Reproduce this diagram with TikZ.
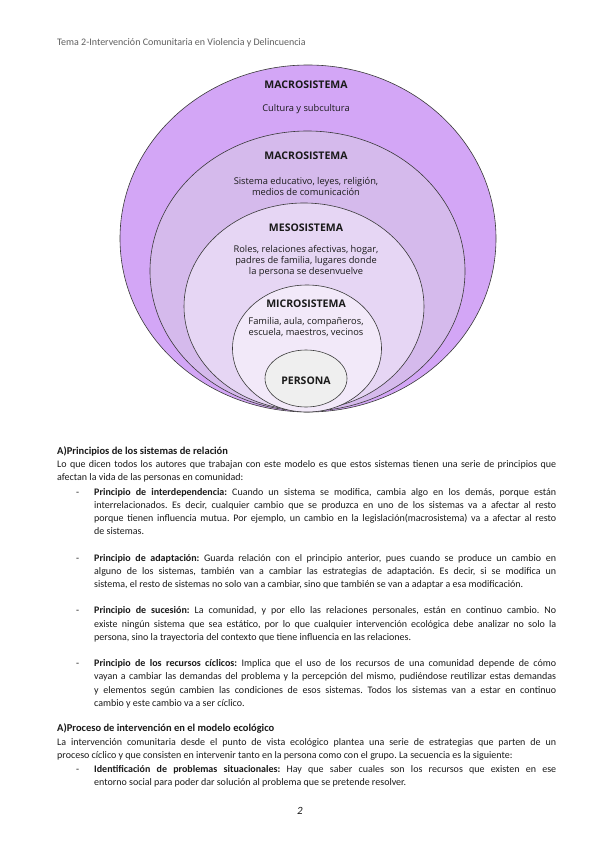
\documentclass[tikz,border=0pt]{standalone}
\usepackage{fontspec}
\setmainfont{Carlito}
\newfontfamily\ringfont{Open Sans}
\frenchspacing
\usetikzlibrary{shapes.geometric}
\definecolor{macroFill}{HTML}{D3A6F6}
\definecolor{exoFill}{HTML}{D5BAEC}
\definecolor{mesoFill}{HTML}{E6D6F4}
\definecolor{microFill}{HTML}{F2E9F9}
\definecolor{personFill}{HTML}{EFEFEF}
\definecolor{ringStroke}{HTML}{3A3A3A}
\definecolor{inkText}{HTML}{1A1A1A}
\definecolor{greyText}{HTML}{5F5F5F}

\begin{document}
\begin{tikzpicture}[
  x=1pt, y=-1pt,
  every node/.style={text=inkText},
  ring/.style={ellipse, draw=ringStroke, line width=0.6pt, inner sep=0pt},
  ringtitle/.style={font=\ringfont\fontsize{10.5}{12}\selectfont\bfseries, inner sep=0pt},
  ringtext/.style={font=\ringfont\fontsize{9.3}{11}\selectfont, align=center, inner sep=0pt},
  runhead/.style={anchor=base west, inner sep=0pt, text=greyText, font=\fontsize{10}{12}\selectfont},
  secthead/.style={anchor=base west, inner sep=0pt, font=\fontsize{10.5}{13}\selectfont\bfseries},
  para/.style={anchor=base west, inner sep=0pt, align=justify, text width=499pt,
               font=\fontsize{10}{13.2}\selectfont},
  item/.style={para, text width=462pt},
  bulletmark/.style={anchor=base west, inner sep=0pt, font=\fontsize{10}{13.2}\selectfont},
]
\useasboundingbox[fill=white] (0,0) rectangle (600,848);

% ---------------- HEADER ----------------
\node[runhead] (HEAD) at (57,46) {Tema 2-Intervención Comunitaria en Violencia y Delincuencia};

% ---------------- RINGS (outer to inner, all touching at the bottom) ----------------
\node[ring, fill=macroFill, minimum width=376pt, minimum height=347pt] (MACRO) at (308,238.5) {};
\node[ring, fill=exoFill, minimum width=315pt, minimum height=280pt] (EXO) at (307.5,271) {};
\node[ring, fill=mesoFill, minimum width=240pt, minimum height=207pt] (MESO) at (304,306.5) {};
\node[ring, fill=microFill, minimum width=149pt, minimum height=127pt] (MICRO) at (307,348.5) {};
\node[ring, fill=personFill, minimum width=82pt, minimum height=57pt] (PERS) at (306,378.5) {};

% ---------------- RING LABELS ----------------
\node[ringtitle] (macroT) at (306,85) {MACROSISTEMA};
\node[ringtext] (macroX) at (306,109) {Cultura y subcultura};
\node[ringtitle] (exoT) at (306,156) {MACROSISTEMA};
\node[ringtext] (exoX) at (306,186.5) {Sistema educativo, leyes, religión,\\medios de comunicación};
\node[ringtitle] (mesoT) at (306,228) {MESOSISTEMA};
\node[ringtext] (mesoX) at (306,261.5) {Roles, relaciones afectivas, hogar,\\padres de familia, lugares donde\\la persona se desenvuelve};
\node[ringtitle] (microT) at (306,304) {MICROSISTEMA};
\node[ringtext] (microX) at (306,327.5) {Familia, aula, compañeros,\\escuela, maestros, vecinos};
\node[ringtitle] (persT) at (306,381) {PERSONA};

% ---------------- PRINCIPLES ----------------
\node[secthead] (headA) at (57,454) {A)Principios de los sistemas de relación};
\node[para] (introA) at (57,467.5) {Lo que dicen todos los autores que trabajan con este modelo es que estos sistemas tienen una serie de principios que\linebreak
  afectan la vida de las personas en comunidad:};

\node[bulletmark] (d1) at (76,495) {-};
\node[item] (p1) at (94,495) {\textbf{Principio de interdependencia:} Cuando un sistema se modifica, cambia algo en los demás, porque están\linebreak
  interrelacionados. Es decir, cualquier cambio que se produzca en uno de los sistemas va a afectar al resto\linebreak
  porque tienen influencia mutua. Por ejemplo, un cambio en la legislación(macrosistema) va a afectar al resto\linebreak
  de sistemas.};

\node[bulletmark] (d2) at (76,561) {-};
\node[item] (p2) at (94,561) {\textbf{Principio de adaptación:} Guarda relación con el principio anterior, pues cuando se produce un cambio en\linebreak
  alguno de los sistemas, también van a cambiar las estrategias de adaptación. Es decir, si se modifica un\linebreak
  sistema, el resto de sistemas no solo van a cambiar, sino que también se van a adaptar a esa modificación.};

\node[bulletmark] (d3) at (76,613.8) {-};
\node[item] (p3) at (94,613.8) {\textbf{Principio de sucesión:} La comunidad, y por ello las relaciones personales, están en continuo cambio. No\linebreak
  existe ningún sistema que sea estático, por lo que cualquier intervención ecológica debe analizar no solo la\linebreak
  persona, sino la trayectoria del contexto que tiene influencia en las relaciones.};

\node[bulletmark] (d4) at (76,666.6) {-};
\node[item] (p4) at (94,666.6) {\textbf{Principio de los recursos cíclicos:} Implica que el uso de los recursos de una comunidad depende de cómo\linebreak
  vayan a cambiar las demandas del problema y la percepción del mismo, pudiéndose reutilizar estas demandas\linebreak
  y elementos según cambien las condiciones de esos sistemas. Todos los sistemas van a estar en continuo\linebreak
  cambio y este cambio va a ser cíclico.};

% ---------------- PROCESS ----------------
\node[secthead] (headB) at (57,731.5) {A)Proceso de intervención en el modelo ecológico};
\node[para] (introB) at (57,745.5) {La intervención comunitaria desde el punto de vista ecológico plantea una serie de estrategias que parten de un\linebreak
  proceso cíclico y que consisten en intervenir tanto en la persona como con el grupo. La secuencia es la siguiente:};
\node[bulletmark] (d5) at (76,772) {-};
\node[item] (p5) at (94,772) {\textbf{Identificación de problemas situacionales:} Hay que saber cuales son los recursos que existen en ese\linebreak
  entorno social para poder dar solución al problema que se pretende resolver.};

\node[anchor=base, inner sep=0pt, font=\fontsize{11}{13}\selectfont\itshape] (PAGE) at (300,814) {2};
\end{tikzpicture}
\end{document}
